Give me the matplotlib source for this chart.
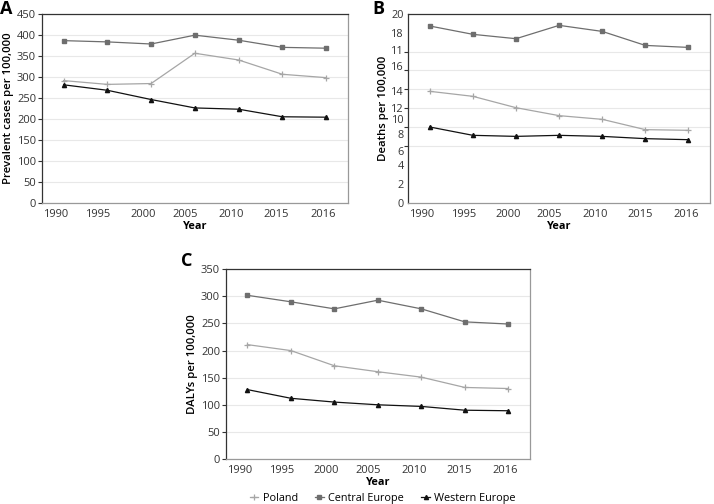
import matplotlib
matplotlib.use("Agg")
import matplotlib.pyplot as plt
import numpy as np

plt.rcParams['font.family'] = ['Open Sans', 'DejaVu Sans']

years = ["1990", "1995", "2000", "2005", "2010", "2015", "2016"]

# A: prevalent cases per 100,000
prev_poland = [291, 282, 284, 356, 340, 306, 298]
prev_central = [386, 383, 378, 399, 387, 370, 368]
prev_western = [281, 268, 246, 226, 223, 205, 204]

# B: deaths per 100,000 (on the gridline scale of the original)
death_poland = [11.8, 11.27, 10.07, 9.23, 8.84, 7.75, 7.68]
death_central = [18.7, 17.82, 17.36, 18.77, 18.13, 16.65, 16.44]
death_western = [8.03, 7.15, 7.04, 7.15, 7.04, 6.8, 6.69]
# the original's y tick labels, misplaced as printed
death_tick_labels = ["0", "2", "4", "6", "8", "10", "12", "14", "16", "11", "18", "20"]
death_tick_pos = [0, 2, 4, 5.5, 7.3, 8.85, 10.05, 11.8, 14.5, 16.2, 18.0, 20]

# C: DALYs per 100,000
daly_poland = [211, 200, 172, 161, 151, 132, 130]
daly_central = [302, 290, 277, 293, 277, 253, 249]
daly_western = [128, 112, 105, 100, 97, 90, 89]

# x label offsets seen in the original (labels sit a bit left of the points)
label_shift = [-0.18, -0.22, -0.19, -0.22, -0.17, -0.13, -0.06]

styles = {
    "Poland": dict(color="#a6a6a6", marker="+", markersize=4, mew=0.9),
    "Central Europe": dict(color="#6e6e6e", marker="s", markersize=3),
    "Western Europe": dict(color="#111111", marker="^", markersize=3),
}

fig = plt.figure(figsize=(7.14, 5.04), dpi=100)


def draw_panel(rect, series, ylim, ystep, ylabel, letter, letter_xy):
    ax = fig.add_axes(rect)
    x = np.arange(len(years))
    for name, vals in series:
        ax.plot(x, vals, lw=0.9, label=name, **styles[name])
    ax.set_xlim(-0.5, 6.5)
    ax.set_ylim(*ylim)
    ax.set_xticks(x + np.array(label_shift))
    ax.set_xticklabels(years)
    ax.tick_params(axis="x", length=0, labelsize=8, colors="#333333", pad=4)
    grid = np.arange(ylim[0], ylim[1] + ystep / 2, ystep)
    ax.set_yticks(grid)
    ax.tick_params(axis="y", length=3, width=0.8, labelsize=8, colors="#333333", pad=1)
    ax.yaxis.grid(True, color="#e8e8e8", lw=0.8)
    ax.set_axisbelow(True)
    ax.spines["left"].set_color("#333333")
    ax.spines["top"].set_color("#333333")
    ax.spines["right"].set_color("#999999")
    ax.spines["bottom"].set_color("#999999")
    for s in ax.spines.values():
        s.set_linewidth(0.9)
    ax.set_xlabel("Year", fontsize=7.8, fontweight="bold", labelpad=1)
    ax.set_ylabel(ylabel, fontsize=8.2, fontweight="semibold", labelpad=2)
    fig.text(letter_xy[0], letter_xy[1], letter, fontsize=13, fontweight="bold",
             ha="left", va="top")
    return ax


axA = draw_panel([0.0584, 0.5972, 0.429, 0.3756],
                 [("Poland", prev_poland), ("Central Europe", prev_central),
                  ("Western Europe", prev_western)],
                 (0, 450), 50, "Prevalent cases per 100,000", "A", (0.0, 1.0))

axB = draw_panel([0.5718, 0.5972, 0.4226, 0.3756],
                 [("Poland", death_poland), ("Central Europe", death_central),
                  ("Western Europe", death_western)],
                 (0, 20), 2, "Deaths per 100,000", "B", (0.521, 1.0))
# minor ticks carry the gridlines and tick marks, labels sit where printed
axB.set_yticks(np.arange(0, 21, 2), minor=True)
axB.set_yticks(death_tick_pos)
axB.set_yticklabels(death_tick_labels)
axB.yaxis.grid(False, which="major")
axB.yaxis.grid(True, which="minor", color="#e8e8e8", lw=0.8)
axB.tick_params(axis="y", which="major", length=0, pad=3, labelsize=7.8)
axB.tick_params(axis="y", which="minor", length=3, width=0.8, color="#333333")

axC = draw_panel([0.3161, 0.0893, 0.4262, 0.3764],
                 [("Poland", daly_poland), ("Central Europe", daly_central),
                  ("Western Europe", daly_western)],
                 (0, 350), 50, "DALYs per 100,000", "C", (0.254, 0.5))

handles, labels = axC.get_legend_handles_labels()
fig.legend(handles, labels, loc="center", bbox_to_anchor=(0.536, 0.011), ncol=3,
           frameon=False, fontsize=7.8, handlelength=0.8, columnspacing=1.6,
           handletextpad=0.4, borderaxespad=0)

fig.savefig("out.png", dpi=100)
